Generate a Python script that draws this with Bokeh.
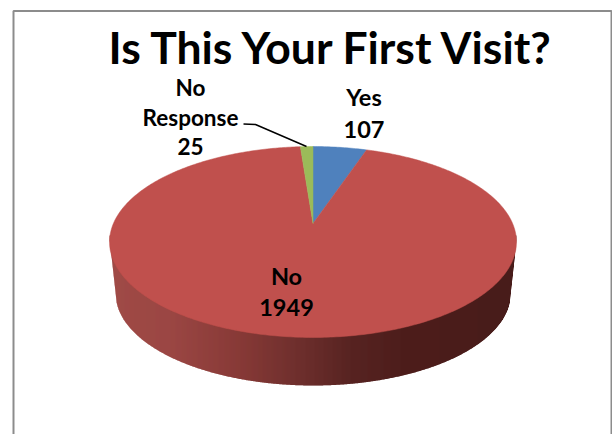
import numpy as np
from bokeh.plotting import figure
from bokeh.models import Range1d
from bokeh.core.properties import value
from bokeh.embed import file_html
from bokeh.resources import INLINE

categories = ["Yes", "No", "No Response"]
counts = [107, 1949, 25]
slice_colors = ["#4F81BD", "#C0504D", "#9BBB59"]
title_text = "Is This Your First Visit?"

W, H = 612, 434
p = figure(width=W, height=H, output_backend="svg", toolbar_location=None,
           x_range=Range1d(0, W), y_range=Range1d(H, 0),
           min_border=0, outline_line_color=None, background_fill_color="white")
p.axis.visible = False
p.grid.visible = False

# perspective projection of the pie's disc
CX, CY, C, B, K = 312.5, 223.0, 199.6, -48.7, 0.1937

def project(theta):
    u, v = np.sin(theta), np.cos(theta)
    w = 1 + K * v
    return CX + C * u / w, (CY + B * v) / w

# frame
p.line([13, 13, 611, 611], [434, 10.5, 10.5, 434], line_color="#8c8c8c", line_width=2)

# side wall as thin vertical strips with a left-to-right shading
def wall_color(x):
    xs = [109, 170, 240, 300, 350, 400, 516]
    rs = [160, 155, 135, 110, 88, 78, 72]
    gs = [75, 71, 58, 47, 36, 30, 28]
    bs = [71, 68, 55, 45, 34, 28, 26]
    return "#%02x%02x%02x" % (int(np.interp(x, xs, rs)), int(np.interp(x, xs, gs)), int(np.interp(x, xs, bs)))

ecx, erx = 312.5, 203.4
lcy, lry, lrx = 293.0, 92.0, 197.5

def wall_bottom(x):
    d = abs(x - ecx)
    if d < lrx:
        return lcy + lry * np.sqrt(1 - (d / lrx) ** 2)
    return 240 + (erx - min(d, erx)) / (erx - lrx) * 53

edges = np.arange(109.0, 516.0, 1.0)
edges[-1] = 515.9
xs_list, ys_list, cols = [], [], []
for a, b in zip(edges[:-1], edges[1:]):
    b2 = min(b + 0.5, 515.9)
    xs_list.append([a, b2, b2, a])
    ys_list.append([235.0, 235.0, wall_bottom(b), wall_bottom(a)])
    cols.append(wall_color((a + b) / 2))
p.patches(xs_list, ys_list, fill_color=cols, line_color=None)

# top face slices
total = sum(counts)
start = 0.0
for n, c in zip(counts, slice_colors):
    end = start + n / total * 2 * np.pi
    t = np.linspace(start, end, max(8, int((end - start) * 80)))
    x, y = project(t)
    p.patch(np.r_[CX, x], np.r_[CY, y], fill_color=c, line_color=c, line_width=0.5)
    start = end

# leader line
p.line([243, 255, 306], [123.5, 124, 146], line_color="black", line_width=1.5)

def label(x, y, s, size):
    p.text([x], [y], text=[s], text_font=value("Lato"), text_font_style="bold",
           text_font_size=size, text_align="center", text_baseline="middle", text_color="black")

label(332, 46, title_text, "44.5px")
label(190, 86.5, "No", "22.5px")
label(190, 116.5, "Response", "22.5px")
label(190, 146, str(counts[2]), "22.5px")
label(363.5, 96.5, categories[0], "23.5px")
label(363.5, 129, str(counts[0]), "23.5px")
label(286, 275, categories[1], "23.5px")
label(286, 307, str(counts[1]), "23.5px")

open("out.html", "w").write(file_html(p, INLINE))
